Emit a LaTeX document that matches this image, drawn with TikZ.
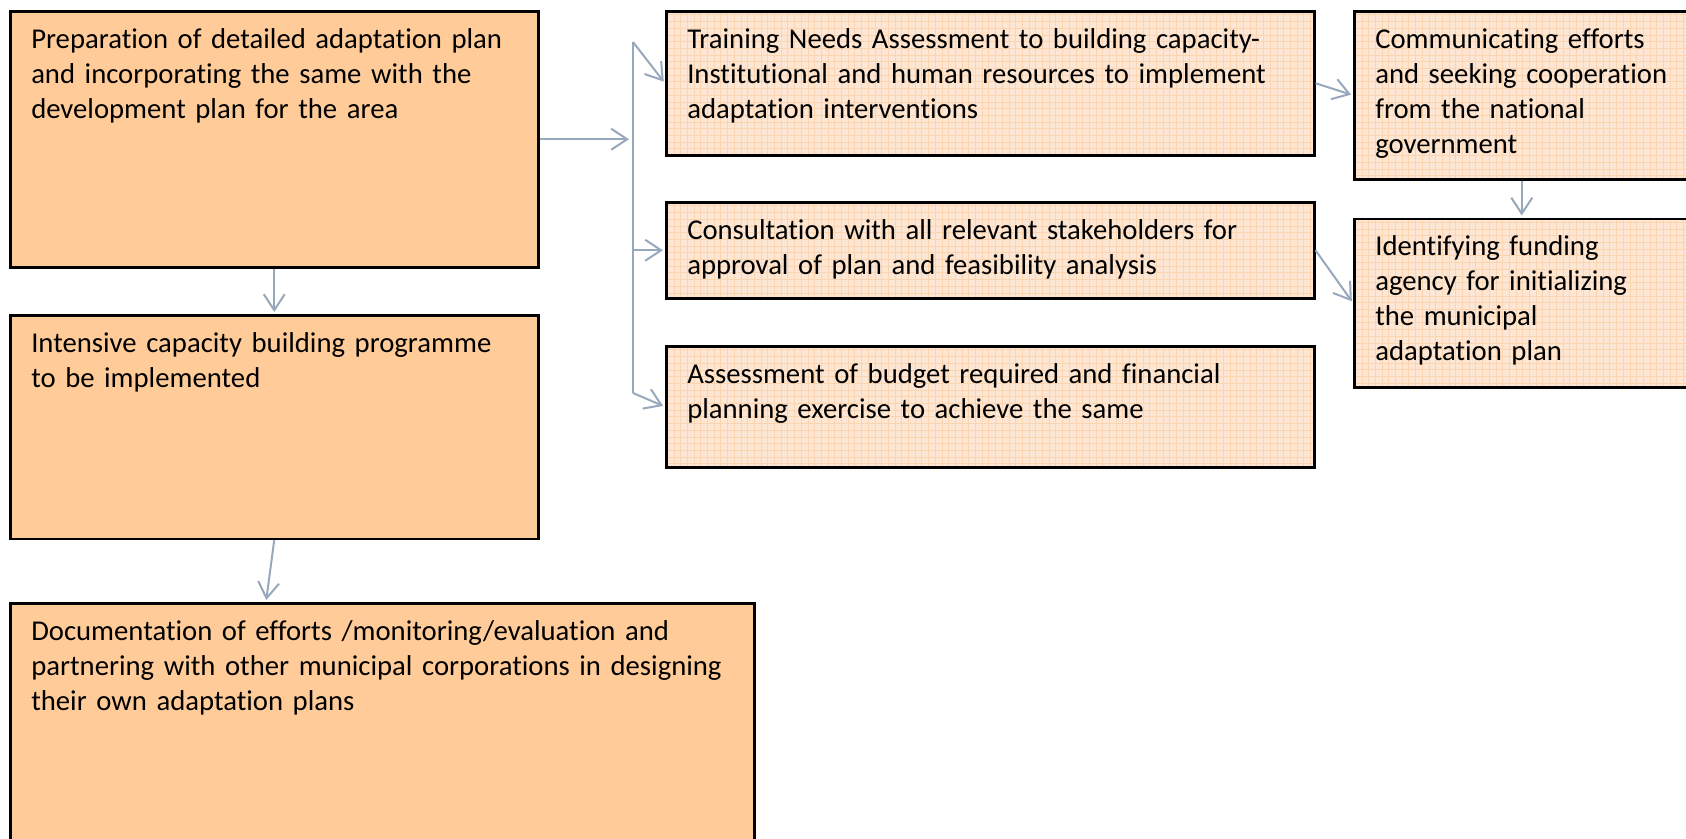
\documentclass[tikz,border=0pt]{standalone}
\usepackage{fontspec}
\setmainfont{Carlito}[Ligatures={NoCommon}]
\usetikzlibrary{arrows.meta, positioning, calc}
\definecolor{peach}{RGB}{255,204,153}
\definecolor{paleorange}{RGB}{253,231,212}
\definecolor{gridorange}{RGB}{251,212,176}
\definecolor{linkgray}{RGB}{152,168,188}
\tikzset{
    plainbox/.style 2 args={rectangle, draw, line width=2.5pt, fill=peach, anchor=north west,
        inner xsep=21pt, inner ysep=0pt, text width=#1pt-42pt, text height=37pt,
        text depth=#2pt-37pt, align=left, font=\fontsize{28.7}{35}\selectfont,
        execute at begin node={\hyphenpenalty=10000\rightskip=-12pt plus 1fil}},
    gridbox/.style 2 args={plainbox={#1}{#2}, fill=paleorange,
        path picture={\draw[gridorange, line width=0.7pt] (path picture bounding box.south west)
            grid[step=6.7pt] (path picture bounding box.north east);}},
    flow/.style={draw=linkgray, line width=2pt, -{Straight Barb[length=16pt,width=21pt]}, shorten >=2pt},
    link/.style={draw=linkgray, line width=2pt}
}

\begin{document}
\begin{tikzpicture}[x=1pt, y=-1pt]
    \useasboundingbox (0,0) rectangle (1686,838);
    \clip (0,0) rectangle (1686,838);
    \node[plainbox={528}{256}] (prep) at (9,10) {Preparation of detailed adaptation plan\\and incorporating the same with the\\development plan for the area};
    \node[plainbox={528}{223.5}] (capac) at (9,314) {Intensive capacity building programme\\to be implemented};
    \node[plainbox={744}{290}] (docum) at (9,602) {Documentation of efforts /monitoring/evaluation and\\partnering with other municipal corporations in designing\\their own adaptation plans};
    \node[gridbox={648}{144}] (tna) at (665,10) {Training Needs Assessment to building capacity-\\Institutional and human resources to implement\\adaptation interventions};
    \node[gridbox={648}{96}] (consult) at (665,201) {Consultation with all relevant stakeholders for\\approval of plan and feasibility analysis};
    \node[gridbox={648}{121}] (budget) at (665,345) {Assessment of budget required and financial\\planning exercise to achieve the same};
    \node[gridbox={335}{168}] (commun) at (1353,10) {Communicating efforts\\and seeking cooperation\\from the national\\government};
    \node[gridbox={335}{168.5}] (funding) at (1353,217.5) {Identifying funding\\agency for initializing\\the municipal\\adaptation plan};

    \coordinate (fantop) at (633,42);
    \coordinate (fanbot) at (633,393);
    \draw[link] (fantop) -- (fanbot);
    \draw[flow, shorten >=4pt] (prep.east) -- (prep.east -| fantop);
    \draw[flow] (fantop) -- (tna.west);
    \draw[flow] (fantop |- consult.west) -- (consult.west);
    \draw[flow] (fanbot) -- (budget.west);
    \draw[flow] (tna.east) -- (commun.west);
    \draw[flow] (consult.east) -- (funding.west);
    \draw[flow] (commun.south) -- (funding.north);
    \draw[flow] (prep.south) -- (capac.north);
    \draw[flow] (capac.south) -- ($(docum.north west)+(257,0)$);
\end{tikzpicture}
\end{document}
